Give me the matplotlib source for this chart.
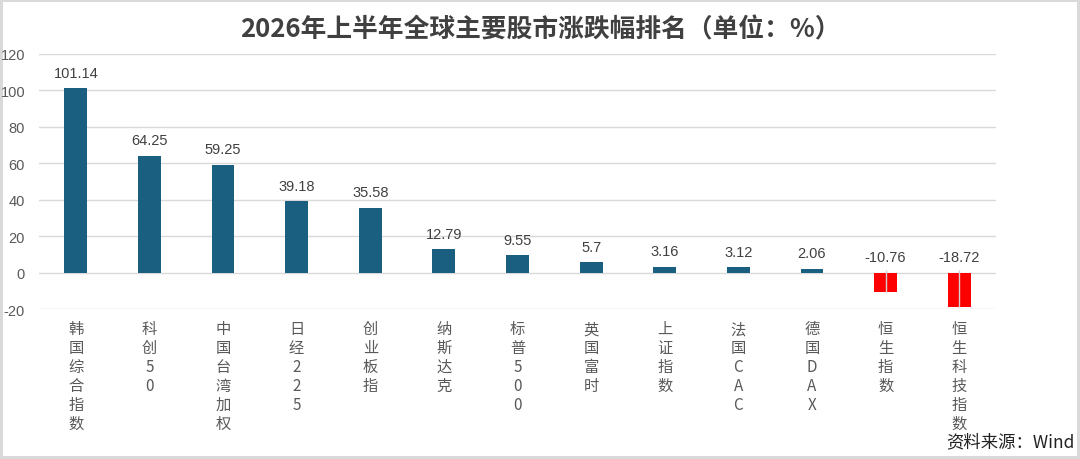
import numpy as np
import matplotlib
matplotlib.use('Agg')
import matplotlib.pyplot as plt

plt.rcParams['font.family'] = ['Noto Sans CJK SC', 'DejaVu Sans']

# Data
markets = ['韩国综合指数', '科创50', '中国台湾加权', '日经225', '创业板指', '纳斯达克',
           '标普500', '英国富时', '上证指数', '法国CAC', '德国DAX', '恒生指数', '恒生科技指数']
changes = [101.14, 64.25, 59.25, 39.18, 35.58, 12.79, 9.55, 5.7, 3.16, 3.12, 2.06, -10.76, -18.72]
value_labels = ['101.14', '64.25', '59.25', '39.18', '35.58', '12.79', '9.55', '5.7',
                '3.16', '3.12', '2.06', '-10.76', '-18.72']
yticks = [-20, 0, 20, 40, 60, 80, 100, 120]

blue = '#1b5f80'
red = '#ff0000'
grey = '#595959'
num_font = ['Liberation Sans', 'DejaVu Sans']

fig = plt.figure(figsize=(10.8, 4.6), dpi=100)
fig.patch.set_edgecolor('#d9d9d9')
fig.patch.set_linewidth(3)
ax = fig.add_axes([39/1080, 1 - 310/460, (996-39)/1080, (310-55)/460])

x = np.arange(len(markets))
colors = [blue if v >= 0 else red for v in changes]
ax.bar(x, changes, width=0.31, color=colors, zorder=3)

# thin light line through the negative bars (as in the source)
neg = [i for i, v in enumerate(changes) if v < 0]
ax.vlines([x[i] for i in neg], [changes[i] for i in neg], 1.5,
          color='#d0d0d0', lw=1, zorder=4)

for xi, v, lab in zip(x, changes, value_labels):
    ax.annotate(lab, (xi, max(v, 0)), xytext=(0, 6), textcoords='offset points',
                ha='center', va='bottom', fontsize=10.5, color='#404040',
                family=num_font)

ax.set_ylim(-20, 120)
ax.set_xlim(-0.5, 12.5)
ax.set_yticks(yticks)
ax.set_yticklabels([str(t) for t in yticks], fontsize=10.5, color=grey,
                   family=num_font)
ax.set_xticks(x)
ax.set_xticklabels(['\n'.join(m) for m in markets], fontsize=11, color=grey,
                   linespacing=1.15, va='top')
ax.tick_params(axis='both', length=0)
ax.tick_params(axis='x', pad=8)
ax.tick_params(axis='y', pad=10)
ax.grid(axis='y', color='#d9d9d9', lw=1, zorder=0)
for s in ax.spines.values():
    s.set_visible(False)

fig.text(0.5, 1 - 30/460, '2026年上半年全球主要股市涨跌幅排名（单位：%）',
         ha='center', va='center', fontsize=18.5, fontweight='bold', color='#404040')
fig.text(0.995, 1 - 442/460, '资料来源：Wind', ha='right', va='center',
         fontsize=12.5, color='#222222')

fig.savefig('out.png', dpi=100)
